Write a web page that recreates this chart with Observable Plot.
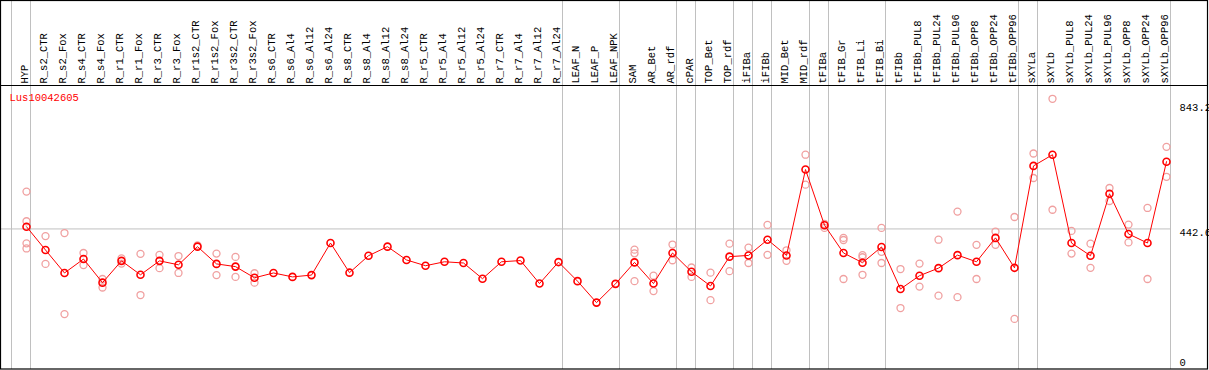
<!DOCTYPE html>
<html><head><meta charset="utf-8">
<script src="https://cdn.jsdelivr.net/npm/d3@7"></script>
<script src="https://cdn.jsdelivr.net/npm/@observablehq/plot@0.6"></script>
<style>html,body{margin:0;padding:0;background:#fff} svg{display:block}</style>
</head><body><div id="chart"></div>
<script>
const title = "Lus10042605";
const labels = ["HYP","R_s2_CTR","R_s2_Fox","R_s4_CTR","R_s4_Fox","R_r1_CTR","R_r1_Fox","R_r3_CTR","R_r3_Fox","R_r1s2_CTR","R_r1s2_Fox","R_r3s2_CTR","R_r3s2_Fox","R_s6_CTR","R_s6_Al4","R_s6_Al12","R_s6_Al24","R_s8_CTR","R_s8_Al4","R_s8_Al12","R_s8_Al24","R_r5_CTR","R_r5_Al4","R_r5_Al12","R_r5_Al24","R_r7_CTR","R_r7_Al4","R_r7_Al12","R_r7_Al24","LEAF_N","LEAF_P","LEAF_NPK","SAM","AR_Bet","AR_rdf","cPAR","TOP_Bet","TOP_rdf","iFIBa","iFIBb","MID_Bet","MID_rdf","tFIBa","tFIB_Gr","tFIB_Li","tFIB_Bi","tFIBb","tFIBb_PUL8","tFIBb_PUL24","tFIBb_PUL96","tFIBb_OPP8","tFIBb_OPP24","tFIBb_OPP96","sXYLa","sXYLb","sXYLb_PUL8","sXYLb_PUL24","sXYLb_PUL96","sXYLb_OPP8","sXYLb_OPP24","sXYLb_OPP96"];
const means = [450,373,297,343,265,337,291,337,324,384,327,318,281,297,284,290,396,298,354,384,340,321,334,330,278,334,338,262,333,270,199,261,332,262,363,301,254,351,355,407,355,639,455,363,331,383,244,288,313,356,334,413,314,651,688,396,354,559,426,396,665];
const reps = [[566,468,395,378],[419,327],[429,161],[363,323],[277,249],[345,328],[360,224],[357,313],[353,297],[388],[361,290],[350,284],[296,265],[],[],[],[],[],[],[],[],[],[],[],[],[],[],[],[],[],[],[],[374,362,270],[288,237],[391,339],[315,284],[298,207],[394,303],[381,330],[456,357],[372,337],[688,589],[459,446],[413,406,277],[356,349,291],[446,367,330],[310,181],[328,252],[407,222],[500,217],[390,277],[434,390],[482,145],[692,611],[873,506],[436,361],[394,314],[578,535],[457,398],[512,277],[714,615]];
const groupEnds = ["HYP","R_r7_Al24","LEAF_NPK","AR_rdf","cPAR","TOP_rdf","iFIBa","iFIBb","MID_rdf","tFIBa","tFIB_Bi","tFIBb_OPP96","sXYLa","sXYLb_OPP96"];
const yTicks = [0, 843.2];
const midTick = [442.6];

const meanRows = labels.map((k, i) => ({k, v: means[i]}));
const repRows = labels.flatMap((k, i) => reps[i].map(v => ({k, v})));

const W = 1209, H = 370;
const yBot = -22.2, yTop = 916.9;
const yAbove = yTop + 85 * (yTop - yBot) / (369 - 85);

const font = "'Liberation Mono', 'DejaVu Sans Mono', monospace";
const plot = Plot.plot({
  width: W, height: H,
  marginTop: 85, marginBottom: 1, marginLeft: 1, marginRight: 38,
  style: {fontFamily: font, fontSize: "10px", background: "#fff", color: "#000", overflow: "visible"},
  x: {type: "point", domain: labels, range: [26, 1166], padding: 0},
  y: {domain: [yBot, yTop], range: [369, 85]},
  marks: [
    Plot.ruleX(groupEnds, {x: d => d, dx: 4, y1: yBot, y2: yAbove, stroke: "#c0c0c0", strokeWidth: 1}),
    Plot.ruleX([labels[0]], {x: d => d, dx: -15, y1: yBot, y2: yAbove, stroke: "#c0c0c0", strokeWidth: 1}),
    Plot.ruleY(midTick, {stroke: "#c0c0c0", strokeWidth: 1}),
    Plot.axisX({anchor: "top", tickSize: 0, tickPadding: 2, tickRotate: -90, dx: -1.5, label: null, fill: "#000", fontSize: 10.5}),
    Plot.axisY({anchor: "right", ticks: yTicks, tickSize: 0, tickPadding: 8, label: null, tickFormat: d => String(d), fill: "#000", fontSize: 10.5}),
    Plot.axisY({anchor: "right", ticks: midTick, tickSize: 0, tickPadding: 8, label: null, tickFormat: d => String(d), dy: 4, fill: "#000", fontSize: 10.5}),
    Plot.dot(repRows, {x: "k", y: "v", r: 3.5, stroke: "#f0a0a0", strokeWidth: 1.3, fill: "none"}),
    Plot.line(meanRows, {x: "k", y: "v", stroke: "#ff0000", strokeWidth: 1}),
    Plot.dot(meanRows, {x: "k", y: "v", r: 3.5, stroke: "#ff0000", strokeWidth: 1.6, fill: "none"}),
    Plot.text([title], {frameAnchor: "top-left", text: d => d, dx: 8, dy: 12, lineAnchor: "middle", fill: "#ff0000", textAnchor: "start", fontSize: 10.5})
  ]
});
const svg = d3.select(plot);
svg.append("line").attr("x1", 0).attr("x2", W - 1).attr("y1", 85.5).attr("y2", 85.5).attr("stroke", "#000").attr("stroke-width", 1);
svg.append("rect").attr("x", 0.5).attr("y", 0.5).attr("width", W - 2).attr("height", H - 1.5).attr("fill", "none").attr("stroke", "#000").attr("stroke-width", 1.2);
document.getElementById("chart").appendChild(plot);
</script>
</body></html>
